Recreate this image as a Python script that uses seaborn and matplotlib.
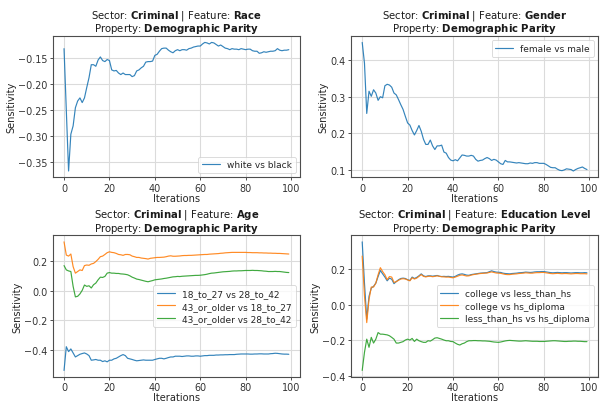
import numpy as np
import pandas as pd
import matplotlib
matplotlib.use("Agg")
import matplotlib.pyplot as plt
import seaborn as sns

iterations = list(range(100))

race_white_vs_black = [
    -0.131, -0.250, -0.367, -0.296, -0.280, -0.245, -0.232, -0.226, -0.235, -0.226,
    -0.206, -0.187, -0.162, -0.162, -0.165, -0.153, -0.147, -0.154, -0.156, -0.152,
    -0.154, -0.172, -0.174, -0.173, -0.178, -0.181, -0.178, -0.181, -0.181, -0.181,
    -0.185, -0.183, -0.174, -0.172, -0.168, -0.165, -0.157, -0.156, -0.156, -0.155,
    -0.144, -0.142, -0.136, -0.131, -0.130, -0.130, -0.134, -0.137, -0.139, -0.135,
    -0.133, -0.135, -0.133, -0.133, -0.134, -0.131, -0.130, -0.128, -0.127, -0.126,
    -0.126, -0.122, -0.119, -0.120, -0.122, -0.119, -0.120, -0.123, -0.126, -0.124,
    -0.127, -0.130, -0.131, -0.133, -0.131, -0.132, -0.132, -0.133, -0.131, -0.132,
    -0.133, -0.132, -0.132, -0.135, -0.136, -0.136, -0.140, -0.139, -0.137, -0.138,
    -0.137, -0.136, -0.136, -0.135, -0.131, -0.134, -0.135, -0.134, -0.134, -0.133,
]

gender_female_vs_male = [
    0.449, 0.392, 0.254, 0.315, 0.301, 0.319, 0.310, 0.290, 0.300, 0.297,
    0.330, 0.334, 0.332, 0.326, 0.310, 0.305, 0.292, 0.278, 0.265, 0.246,
    0.228, 0.222, 0.207, 0.195, 0.207, 0.221, 0.205, 0.183, 0.169, 0.169,
    0.181, 0.165, 0.155, 0.165, 0.165, 0.167, 0.148, 0.145, 0.133, 0.126,
    0.124, 0.127, 0.124, 0.132, 0.140, 0.139, 0.137, 0.137, 0.139, 0.137,
    0.128, 0.123, 0.125, 0.126, 0.130, 0.133, 0.130, 0.125, 0.128, 0.126,
    0.121, 0.116, 0.114, 0.125, 0.121, 0.121, 0.120, 0.119, 0.118, 0.119,
    0.118, 0.117, 0.116, 0.116, 0.118, 0.117, 0.119, 0.119, 0.117, 0.117,
    0.117, 0.114, 0.110, 0.106, 0.105, 0.105, 0.101, 0.098, 0.097, 0.099,
    0.102, 0.101, 0.100, 0.096, 0.100, 0.103, 0.105, 0.107, 0.103, 0.100,
]

age_18_27_vs_28_42 = [
    -0.538, -0.378, -0.411, -0.393, -0.420, -0.447, -0.438, -0.429, -0.424, -0.420,
    -0.427, -0.438, -0.469, -0.467, -0.464, -0.469, -0.469, -0.478, -0.473, -0.480,
    -0.469, -0.469, -0.460, -0.456, -0.447, -0.438, -0.431, -0.438, -0.456, -0.460,
    -0.464, -0.469, -0.473, -0.471, -0.469, -0.467, -0.469, -0.469, -0.469, -0.469,
    -0.464, -0.460, -0.456, -0.456, -0.460, -0.456, -0.451, -0.447, -0.447, -0.442,
    -0.442, -0.442, -0.444, -0.442, -0.440, -0.440, -0.442, -0.442, -0.440, -0.440,
    -0.442, -0.440, -0.438, -0.438, -0.436, -0.436, -0.436, -0.434, -0.434, -0.433,
    -0.433, -0.432, -0.432, -0.431, -0.431, -0.431, -0.429, -0.428, -0.427, -0.427,
    -0.427, -0.427, -0.428, -0.428, -0.427, -0.427, -0.426, -0.426, -0.427, -0.427,
    -0.427, -0.425, -0.424, -0.422, -0.423, -0.425, -0.427, -0.428, -0.428, -0.429,
]

age_43_vs_18_27 = [
    0.329, 0.240, 0.233, 0.247, 0.162, 0.118, 0.129, 0.140, 0.136, 0.169,
    0.173, 0.171, 0.180, 0.184, 0.196, 0.211, 0.229, 0.233, 0.244, 0.256,
    0.262, 0.258, 0.256, 0.251, 0.244, 0.242, 0.238, 0.244, 0.244, 0.242,
    0.233, 0.229, 0.224, 0.224, 0.220, 0.218, 0.216, 0.213, 0.218, 0.220,
    0.222, 0.224, 0.224, 0.225, 0.226, 0.229, 0.233, 0.235, 0.232, 0.232,
    0.233, 0.234, 0.236, 0.237, 0.237, 0.238, 0.238, 0.239, 0.240, 0.241,
    0.242, 0.243, 0.244, 0.244, 0.246, 0.247, 0.248, 0.249, 0.250, 0.252,
    0.253, 0.255, 0.256, 0.257, 0.258, 0.258, 0.258, 0.258, 0.258, 0.258,
    0.258, 0.257, 0.257, 0.256, 0.256, 0.256, 0.255, 0.255, 0.254, 0.254,
    0.253, 0.253, 0.252, 0.252, 0.251, 0.251, 0.250, 0.249, 0.248, 0.247,
]

age_43_vs_28_42 = [
    0.169, 0.140, 0.133, 0.129, 0.029, -0.042, -0.038, -0.022, 0.002, 0.038,
    0.029, 0.033, 0.018, 0.040, 0.051, 0.073, 0.091, 0.089, 0.096, 0.118,
    0.122, 0.118, 0.118, 0.116, 0.116, 0.113, 0.112, 0.110, 0.107, 0.100,
    0.091, 0.085, 0.078, 0.075, 0.071, 0.067, 0.063, 0.060, 0.064, 0.068,
    0.073, 0.075, 0.077, 0.079, 0.082, 0.084, 0.087, 0.090, 0.093, 0.094,
    0.096, 0.095, 0.097, 0.098, 0.099, 0.100, 0.101, 0.102, 0.103, 0.103,
    0.104, 0.106, 0.108, 0.111, 0.115, 0.118, 0.119, 0.121, 0.123, 0.125,
    0.127, 0.128, 0.129, 0.130, 0.132, 0.133, 0.133, 0.134, 0.134, 0.135,
    0.136, 0.136, 0.136, 0.137, 0.136, 0.136, 0.135, 0.134, 0.132, 0.131,
    0.129, 0.129, 0.129, 0.130, 0.129, 0.129, 0.127, 0.125, 0.123, 0.122,
]

edu_college_vs_less_than_hs = [
    0.354, 0.122, -0.081, 0.048, 0.094, 0.104, 0.122, 0.159, 0.193, 0.174,
    0.156, 0.135, 0.150, 0.144, 0.119, 0.131, 0.141, 0.148, 0.150, 0.148,
    0.141, 0.137, 0.156, 0.148, 0.154, 0.163, 0.174, 0.163, 0.159, 0.163,
    0.163, 0.161, 0.163, 0.165, 0.161, 0.159, 0.160, 0.159, 0.160, 0.158,
    0.156, 0.160, 0.167, 0.172, 0.174, 0.171, 0.167, 0.166, 0.170, 0.172,
    0.174, 0.176, 0.178, 0.179, 0.180, 0.181, 0.186, 0.191, 0.187, 0.184,
    0.183, 0.182, 0.178, 0.176, 0.175, 0.174, 0.176, 0.177, 0.178, 0.180,
    0.181, 0.182, 0.184, 0.183, 0.182, 0.183, 0.185, 0.186, 0.186, 0.187,
    0.187, 0.185, 0.183, 0.181, 0.180, 0.181, 0.182, 0.181, 0.180, 0.181,
    0.181, 0.180, 0.179, 0.180, 0.181, 0.181, 0.180, 0.180, 0.181, 0.180,
]

edu_college_vs_hs_diploma = [
    0.274, 0.050, -0.100, 0.030, 0.100, 0.100, 0.122, 0.169, 0.209, 0.187,
    0.169, 0.141, 0.159, 0.156, 0.126, 0.130, 0.138, 0.145, 0.147, 0.145,
    0.140, 0.135, 0.152, 0.145, 0.150, 0.160, 0.170, 0.160, 0.157, 0.160,
    0.161, 0.158, 0.160, 0.163, 0.160, 0.158, 0.157, 0.156, 0.156, 0.154,
    0.152, 0.156, 0.161, 0.166, 0.168, 0.165, 0.162, 0.163, 0.167, 0.170,
    0.172, 0.174, 0.176, 0.177, 0.178, 0.179, 0.182, 0.185, 0.182, 0.179,
    0.178, 0.177, 0.174, 0.171, 0.170, 0.170, 0.172, 0.173, 0.174, 0.176,
    0.177, 0.178, 0.180, 0.179, 0.178, 0.178, 0.180, 0.181, 0.181, 0.182,
    0.182, 0.180, 0.178, 0.176, 0.175, 0.176, 0.177, 0.176, 0.175, 0.176,
    0.176, 0.175, 0.174, 0.175, 0.176, 0.176, 0.175, 0.175, 0.175, 0.174,
]

edu_less_than_hs_vs_hs_diploma = [
    -0.369, -0.267, -0.193, -0.239, -0.183, -0.215, -0.193, -0.156, -0.165, -0.165,
    -0.167, -0.169, -0.174, -0.183, -0.193, -0.215, -0.215, -0.211, -0.207, -0.198,
    -0.193, -0.198, -0.189, -0.206, -0.193, -0.202, -0.207, -0.211, -0.211, -0.202,
    -0.204, -0.196, -0.187, -0.185, -0.189, -0.193, -0.198, -0.202, -0.202, -0.206,
    -0.207, -0.215, -0.222, -0.226, -0.219, -0.215, -0.207, -0.202, -0.202, -0.201,
    -0.201, -0.202, -0.202, -0.203, -0.203, -0.204, -0.205, -0.207, -0.209, -0.210,
    -0.211, -0.209, -0.206, -0.203, -0.201, -0.200, -0.201, -0.202, -0.203, -0.204,
    -0.204, -0.203, -0.202, -0.203, -0.204, -0.205, -0.205, -0.205, -0.206, -0.206,
    -0.206, -0.205, -0.204, -0.203, -0.202, -0.202, -0.203, -0.204, -0.205, -0.206,
    -0.206, -0.205, -0.205, -0.204, -0.204, -0.205, -0.205, -0.206, -0.207, -0.207,
]

features = ["Race", "Gender", "Age", "Education Level"]
series = {
    "Race": {"white vs black": race_white_vs_black},
    "Gender": {"female vs male": gender_female_vs_male},
    "Age": {
        "18_to_27 vs 28_to_42": age_18_27_vs_28_42,
        "43_or_older vs 18_to_27": age_43_vs_18_27,
        "43_or_older vs 28_to_42": age_43_vs_28_42,
    },
    "Education Level": {
        "college vs less_than_hs": edu_college_vs_less_than_hs,
        "college vs hs_diploma": edu_college_vs_hs_diploma,
        "less_than_hs vs hs_diploma": edu_less_than_hs_vs_hs_diploma,
    },
}
legend_locs = {
    "Race": dict(loc="lower right"),
    "Gender": dict(loc="upper right"),
    "Age": dict(loc="center right"),
    "Education Level": dict(loc="center right"),
}

sns.set_style("whitegrid", {
    "axes.edgecolor": "0.3",
    "grid.color": "0.86",
    "xtick.bottom": True,
    "ytick.left": True,
    "xtick.color": "0.2",
    "ytick.color": "0.2",
})
plt.rcParams["font.family"] = ["DejaVu Sans"]
plt.rcParams["mathtext.fontset"] = "dejavusans"

palette = ["#1f77b4", "#ff7f0e", "#2ca02c"]

fig, axes = plt.subplots(2, 2, figsize=(6.0, 4.02), dpi=100)
fig.subplots_adjust(left=0.088, right=0.997, top=0.908, bottom=0.06,
                    wspace=0.206, hspace=0.41)

for ax, feat in zip(axes.flat, features):
    rows = []
    for name, vals in series[feat].items():
        for it, v in zip(iterations, vals):
            rows.append({"Iterations": it, "Sensitivity": v, "pair": name})
    df = pd.DataFrame(rows)
    names = list(series[feat].keys())
    sns.lineplot(data=df, x="Iterations", y="Sensitivity", hue="pair",
                 hue_order=names, palette=palette[:len(names)],
                 linewidth=0.85, alpha=0.9, ax=ax)
    feat_tex = feat.replace(" ", r"\ ")
    ax.set_title("Sector: $\\bf{Criminal}$ | Feature: $\\bf{" + feat_tex + "}$\n"
                 "Property: $\\bf{Demographic\\ Parity}$",
                 fontsize=7.3, pad=3.5, linespacing=0.95, color="0.1")
    ax.set_xlabel("Iterations", fontsize=7.1, labelpad=0)
    ax.set_ylabel("Sensitivity", fontsize=7.1, labelpad=1)
    ax.tick_params(labelsize=6.9, length=2.5, width=0.6, pad=1.5)
    ax.set_xticks([0, 20, 40, 60, 80, 100])
    for s in ax.spines.values():
        s.set_linewidth(0.8)
        s.set_color("0.3")
    ax.grid(True, linewidth=0.8)
    leg = ax.legend(fontsize=6.5, frameon=True, framealpha=0.8,
                    handlelength=2.0, borderpad=0.4, labelspacing=0.4,
                    **legend_locs[feat])
    leg.get_frame().set_edgecolor("0.8")
    leg.get_frame().set_linewidth(0.6)

fig.savefig("out.png", dpi=100)
